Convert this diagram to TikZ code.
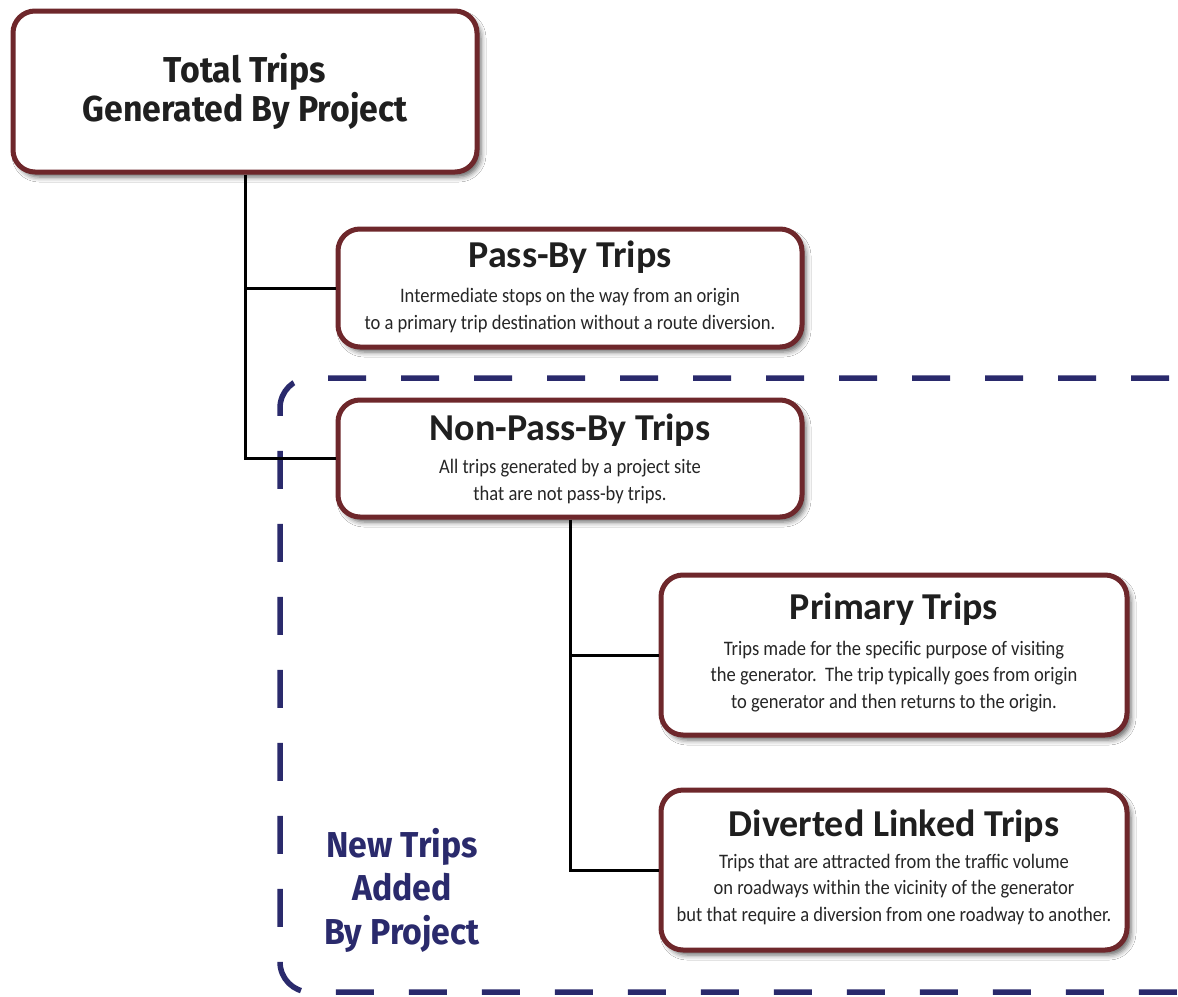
\documentclass[tikz,border=0pt]{standalone}
\usepackage{fontspec}
\setmainfont{Carlito}
\newfontfamily\headfont[FakeStretch=0.94]{Fira Sans}
\newfontfamily\titlefont{Carlito}
\newfontfamily\bodyfont[FakeStretch=0.9]{Carlito}
\usetikzlibrary{shadows.blur}
\definecolor{boxred}{HTML}{6E272B}
\definecolor{navyblue}{HTML}{2A2A6C}
\begin{document}
\begin{tikzpicture}[x=1pt,y=-1pt,
  tripbox/.style={draw=boxred, line width=5pt, fill=white, rounded corners=22pt,
    inner sep=0pt, minimum width=464pt,
    blur shadow={shadow xshift=4pt, shadow yshift=-5pt, shadow blur radius=5pt, shadow opacity=60}},
  link/.style={line width=3pt, black},
  frame/.style={draw=navyblue, line width=5.5pt, rounded corners=30pt,
    dash pattern=on 38pt off 35pt, dash phase=52pt},
  toptitle/.style={font=\headfont\bfseries\fontsize{36}{39}\selectfont, text=black!88, anchor=base, inner sep=0pt},
  boxtitle/.style={font=\titlefont\bfseries\fontsize{38}{40}\selectfont, text=black!88, anchor=base, inner sep=0pt},
  bodytext/.style={font=\bodyfont\fontsize{20.6}{26.5}\selectfont, text=black!85, align=center, anchor=base, inner sep=0pt},
  newtext/.style={font=\headfont\bfseries\fontsize{36}{43.5}\selectfont, text=navyblue, align=center, anchor=base, inner sep=0pt}
]
\useasboundingbox (0,0) rectangle (1178,996);
\clip (0,0) rectangle (1178,996);
\fill[white] (0,0) rectangle (1178,996);

% dashed frame of new trips
\coordinate (fa) at (1190,378);
\coordinate (fb) at (280,378);
\coordinate (fc) at (280,992);
\coordinate (fd) at (1190,992);
\draw[frame] (fa) -- (fb) -- (fc) -- (fd);

% boxes
\node[tripbox, minimum height=161pt] (total) at (245,91.5) {};
\node[tripbox, minimum height=118pt] (pass) at (570,288) {};
\node[tripbox, minimum height=117pt] (nonpass) at (570,458.5) {};
\node[tripbox, minimum width=466pt, minimum height=160pt] (primary) at (894,655) {};
\node[tripbox, minimum width=466pt, minimum height=160pt] (diverted) at (894,870) {};

% connectors
\draw[link] (total.south) -- (total.south |- nonpass.west) -- (nonpass.west);
\draw[link] (total.south |- pass.west) -- (pass.west);
\draw[link] (nonpass.south) -- (nonpass.south |- diverted.west) -- (diverted.west);
\draw[link] (nonpass.south |- primary.west) -- (primary.west);

% texts
\node[toptitle] (t1) at (245,82) {Total Trips};
\node[toptitle] (t2) at (245,121) {Generated By Project};

\node[boxtitle] (pt) at (570,267) {Pass-By Trips};
\node[bodytext] (pb) at (570,329) {Intermediate stops on the way from an origin\\to a primary trip destination without a route diversion.};

\node[boxtitle] (nt) at (570,440) {Non-Pass-By Trips};
\node[bodytext] (nb) at (570,500) {All trips generated by a project site\\that are not pass-by trips.};

\node[boxtitle] (prt) at (894,619) {Primary Trips};
\node[bodytext] (prb) at (894,708) {Trips made for the specific purpose of visiting\\the generator.\ \ The trip typically goes from origin\\to generator and then returns to the origin.};

\node[boxtitle] (dt) at (894,836) {Diverted Linked Trips};
\node[bodytext] (db) at (894,921) {Trips that are attracted from the traffic volume\\on roadways within the vicinity of the generator\\but that require a diversion from one roadway to another.};

\node[newtext] (nw) at (402,944) {New Trips\\Added\\By Project};
\end{tikzpicture}
\end{document}
